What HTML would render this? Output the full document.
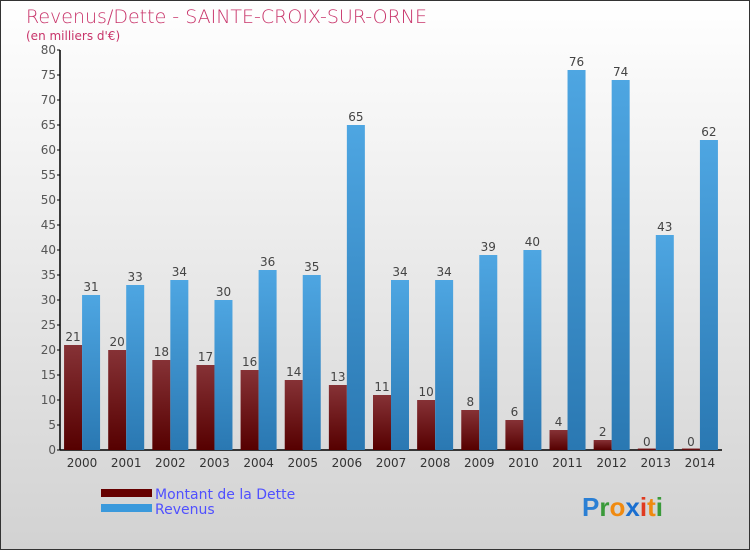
<!DOCTYPE html>
<html><head><meta charset="utf-8"><style>
body{margin:0;width:750px;height:550px;overflow:hidden;font-family:"DejaVu Sans","Liberation Sans",sans-serif}
</style></head><body>
<svg id="chart" width="750" height="550" xmlns="http://www.w3.org/2000/svg">
<defs>
<linearGradient id="bg" x1="0" y1="0" x2="0" y2="1"><stop offset="0" stop-color="#ffffff"/><stop offset="1" stop-color="#d2d2d2"/></linearGradient>
<linearGradient id="gd" x1="0" y1="0" x2="0" y2="1"><stop offset="0" stop-color="#863236"/><stop offset="1" stop-color="#560000"/></linearGradient>
<linearGradient id="gr" x1="0" y1="0" x2="0" y2="1"><stop offset="0" stop-color="#4ea6e2"/><stop offset="1" stop-color="#2a78b2"/></linearGradient>
</defs>
<rect x="0.5" y="0.5" width="749" height="549" fill="url(#bg)" stroke="#333"/>
<text x="26" y="23" font-size="19" fill="#c8346a" font-family="DejaVu Sans" font-weight="200">Revenus/Dette - SAINTE-CROIX-SUR-ORNE</text>
<text x="26" y="40" font-size="12" fill="#c8346a">(en milliers d'€)</text>
<g id="axes"></g>
<g id="bars"></g>
<rect x="101" y="489" width="51" height="8" fill="#660000"/>
<rect x="101" y="504" width="51" height="8" fill="#3a99dc"/>
<text x="155" y="499" font-size="14" fill="#5050ff">Montant de la Dette</text>
<text x="155" y="514" font-size="14" fill="#5050ff">Revenus</text>
<text x="582" y="516" font-size="26" font-weight="bold" font-family="Liberation Sans"><tspan fill="#2a7fd4">P</tspan><tspan fill="#3a9a3a">r</tspan><tspan fill="#f08a10">o</tspan><tspan fill="#1a6fd0">x</tspan><tspan fill="#e03a20">i</tspan><tspan fill="#f08a10">t</tspan><tspan fill="#3a9a3a">i</tspan></text>
</svg>
<script>
const years=["2000","2001","2002","2003","2004","2005","2006","2007","2008","2009","2010","2011","2012","2013","2014"];
const dette=[21,20,18,17,16,14,13,11,10,8,6,4,2,0,0];
const revenus=[31,33,34,30,36,35,65,34,34,39,40,76,74,43,62];
const yTicks=[0,5,10,15,20,25,30,35,40,45,50,55,60,65,70,75,80];
const NS="http://www.w3.org/2000/svg";
const x0=60,x1=722,y0=450,yTop=50,yMax=80;
const band=(x1-x0)/years.length;
function y(v){return y0-(v/yMax)*(y0-yTop);}
function cx(i){return x0+(i+0.5)*band;}
function mk(t,a,p){const e=document.createElementNS(NS,t);for(const k in a)e.setAttribute(k,a[k]);p.appendChild(e);return e;}
const ax=document.getElementById('axes'),bg=document.getElementById('bars');
const yl=mk('line',{x1:x0,y1:yTop,x2:x0,y2:y0,stroke:'#000','stroke-width':1.5},ax);


const xl=mk('line',{x1:x0,y1:y0,x2:x1,y2:y0,stroke:'#000','stroke-width':1.5},ax);


yTicks.forEach(v=>{
 const tk=mk('line',{x1:x0-3,y1:y(v),x2:x0,y2:y(v),stroke:'#000'},ax);
 
 
 const t=mk('text',{x:x0-4,y:y(v)+4,'text-anchor':'end','font-size':12,fill:'#555'},ax);
 t.textContent=v;
 
 
});
years.forEach((yr,i)=>{
 const c=cx(i);
 const t=mk('text',{x:c,y:467,'text-anchor':'middle','font-size':12,fill:'#333'},ax);
 t.textContent=yr;
 
 
 const hd=Math.max(y0-y(dette[i]),1.5);
 const b1=mk('rect',{x:c-18,y:y0-hd,width:18,height:hd,fill:'url(#gd)'},bg);
 
 
 const l1=mk('text',{x:c-9,y:y(dette[i])-4,'text-anchor':'middle','font-size':12,fill:'#444'},bg);
 l1.textContent=dette[i];
 
 
 const b2=mk('rect',{x:c,y:y(revenus[i]),width:18,height:y0-y(revenus[i]),fill:'url(#gr)'},bg);
 
 
 const l2=mk('text',{x:c+9,y:y(revenus[i])-4,'text-anchor':'middle','font-size':12,fill:'#444'},bg);
 l2.textContent=revenus[i];
 
 
});
</script>
</body></html>
